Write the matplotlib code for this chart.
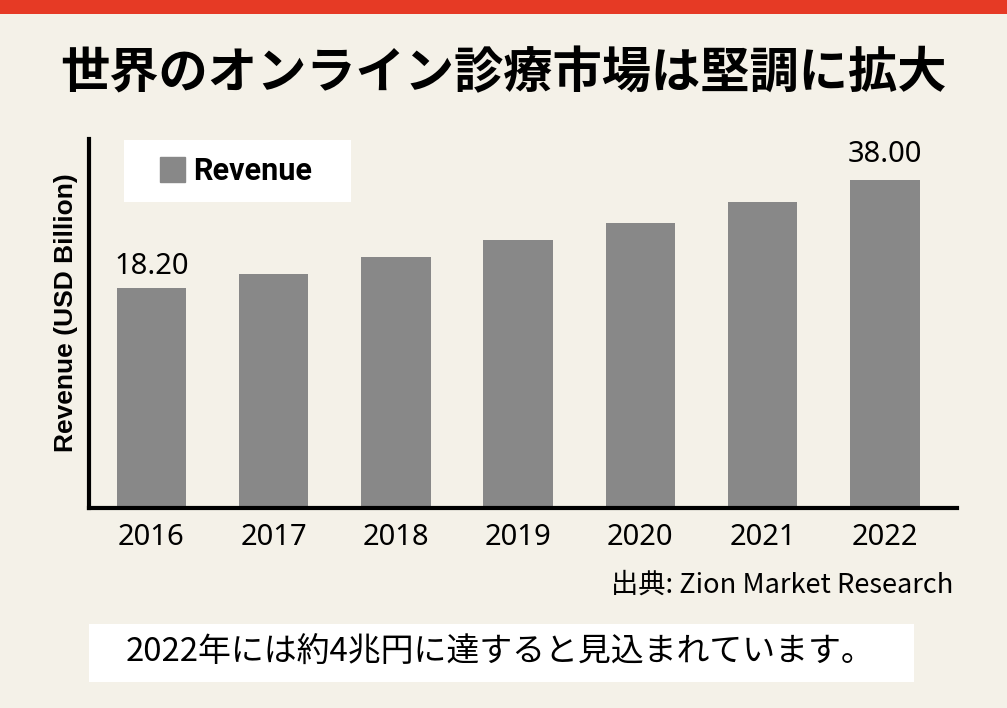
import matplotlib
matplotlib.use('Agg')
import matplotlib.pyplot as plt
from matplotlib.lines import Line2D
from matplotlib.patches import Rectangle

# data
years = ['2016', '2017', '2018', '2019', '2020', '2021', '2022']
revenue = [18.2, 20.8, 24.0, 27.1, 30.1, 34.0, 38.0]
shown_labels = {0: '18.20', 6: '38.00'}

title = '世界のオンライン診療市場は堅調に拡大'
source = '出典: Zion Market Research'
note = '2022年には約4兆円に達すると見込まれています。'

BG = '#f4f1e8'
RED = '#e63a25'
GREY = '#888888'
BASE = -21.9  # the value axis of the original does not start at zero

plt.rcParams['font.family'] = ['Noto Sans', 'Noto Sans CJK JP']

fig = plt.figure(figsize=(10.07, 7.08), dpi=100, facecolor=BG)
W, H = 1007, 708

# red strip on top
fig.patches.append(Rectangle((0, 1 - 14 / H), 1, 14 / H, transform=fig.transFigure,
                             facecolor=RED, edgecolor='none', zorder=0))

fig.text(503 / W, 1 - 74 / H, title, ha='center', va='center', fontsize=35.5,
         fontweight='bold', family='Noto Sans CJK JP')

ax = fig.add_axes([89 / W, 1 - 507.5 / H, 868 / W, 368.5 / H])
ax.set_facecolor(BG)

heights = [v - BASE for v in revenue]
bars = ax.bar(range(len(years)), heights, bottom=BASE, width=0.567, color=GREY,
              label='Revenue', zorder=2)

for i, txt in shown_labels.items():
    off = 5 if i == 0 else 8
    ax.annotate(txt, (i, revenue[i]), xytext=(0, off), textcoords='offset points',
                ha='center', va='bottom', fontsize=21)

ax.set_xlim(-0.51, 6.59)
ax.set_ylim(BASE, 45.5)
ax.set_xticks(range(len(years)))
ax.set_xticklabels(years, fontsize=21)
ax.set_yticks([])
ax.tick_params(axis='x', length=0, pad=11)
for s in ['top', 'right']:
    ax.spines[s].set_visible(False)
for s in ['left', 'bottom']:
    ax.spines[s].set_linewidth(3)
    ax.spines[s].set_color('black')
    ax.spines[s].set_zorder(3)

fig.text(66 / W, 1 - 313 / H, 'Revenue (USD Billion)', rotation=90, ha='center', va='center',
         fontsize=19, fontweight='bold', family='Liberation Sans')

handle = Line2D([], [], marker='s', markersize=18, color=GREY, linestyle='none')
leg = ax.legend([handle], ['Revenue'], loc='upper left', mode='expand',
                bbox_to_anchor=(124.3 / W, 1 - 198.3 / H, 226.4 / W, 58.3 / H),
                bbox_transform=fig.transFigure, borderaxespad=0,
                prop={'size': 22, 'weight': 'bold', 'family': 'Roboto'}, handlelength=2.1,
                handletextpad=-0.36, borderpad=0.52, fancybox=False,
                framealpha=1, facecolor='white', edgecolor='none')

fig.text(953 / W, 1 - 585 / H, source, ha='right', va='center', fontsize=19.6,
         family='Noto Sans CJK JP')

fig.patches.append(Rectangle((88.6 / W, 1 - 681.7 / H), 825 / W, 57.7 / H,
                             transform=fig.transFigure, facecolor='white',
                             edgecolor='none', zorder=0))
fig.text(500 / W, 1 - 653 / H, note, ha='center', va='center', fontsize=23.7,
         family='Noto Sans CJK JP')

fig.savefig('out.png', dpi=100, facecolor=BG)
